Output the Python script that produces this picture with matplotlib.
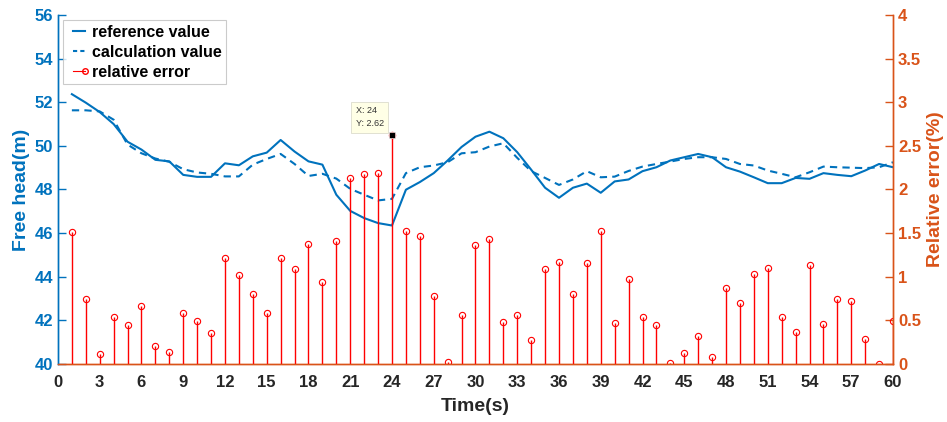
import numpy as np
import matplotlib
matplotlib.use("Agg")
import matplotlib.pyplot as plt
from matplotlib.lines import Line2D
from matplotlib.legend_handler import HandlerLine2D

plt.rcParams['font.family'] = ['Liberation Sans', 'DejaVu Sans']
plt.rcParams['font.weight'] = 'bold'

BLUE = '#0072BD'
ORANGE = '#D95319'

# time axis (s)
time_s = np.arange(1, 61)

# measured free head (m)
reference_value = [
    52.37, 51.98, 51.55, 51.00, 50.19, 49.83, 49.36, 49.29, 48.67, 48.58,
    48.58, 49.20, 49.11, 49.52, 49.69, 50.27, 49.74, 49.29, 49.14, 47.76,
    47.02, 46.69, 46.46, 46.35, 47.99, 48.34, 48.75, 49.33, 49.95, 50.42,
    50.65, 50.35, 49.71, 48.91, 48.08, 47.62, 48.08, 48.27, 47.85, 48.37,
    48.46, 48.84, 49.02, 49.33, 49.48, 49.63, 49.48, 49.02, 48.82, 48.56,
    48.29, 48.29, 48.53, 48.49, 48.75, 48.67, 48.61, 48.87, 49.17, 49.02,
]

# simulated free head (m)
calculation_value = [
    51.63, 51.63, 51.58, 51.20, 50.06, 49.66, 49.42, 49.27, 48.93, 48.78,
    48.72, 48.60, 48.60, 49.14, 49.40, 49.63, 49.17, 48.62, 48.72, 48.50,
    48.03, 47.76, 47.50, 47.57, 48.75, 49.02, 49.10, 49.25, 49.66, 49.71,
    49.97, 50.12, 49.45, 48.84, 48.53, 48.21, 48.46, 48.84, 48.56, 48.59,
    48.85, 49.05, 49.17, 49.28, 49.40, 49.48, 49.48, 49.40, 49.17, 49.10,
    48.87, 48.72, 48.56, 48.79, 49.05, 49.02, 49.00, 48.98, 49.02, 49.25,
]

# relative error (%)
relative_error = [
    1.51, 0.74, 0.11, 0.54, 0.45, 0.66, 0.21, 0.14, 0.58, 0.49,
    0.36, 1.21, 1.02, 0.80, 0.59, 1.22, 1.09, 1.37, 0.94, 1.41,
    2.13, 2.18, 2.19, 2.62, 1.52, 1.47, 0.78, 0.02, 0.56, 1.36,
    1.43, 0.48, 0.56, 0.27, 1.09, 1.17, 0.80, 1.16, 1.52, 0.47,
    0.97, 0.54, 0.45, 0.01, 0.13, 0.32, 0.08, 0.87, 0.70, 1.03,
    1.10, 0.54, 0.37, 1.13, 0.46, 0.75, 0.72, 0.29, 0.00, 0.49,
]

tip_x = 24
tip_y = relative_error[tip_x - 1]


# legend entry with the marker only at the right end of the line
class EndMarkerHandler(HandlerLine2D):
    def create_artists(self, legend, orig_handle, xdescent, ydescent,
                       width, height, fontsize, trans):
        artists = super().create_artists(legend, orig_handle, xdescent, ydescent,
                                         width, height, fontsize, trans)
        artists[0].set_markevery([-1])
        return artists


fig = plt.figure(figsize=(9.47, 4.22), dpi=100)
ax1 = fig.add_axes([0.0612, 0.1374, 0.8818, 0.8271])
ax2 = ax1.twinx()

ax1.plot(time_s, reference_value, color=BLUE, lw=1.5)
ax1.plot(time_s, calculation_value, color=BLUE, lw=1.5, ls=(0, (3.5, 2.5)))

# stems for the error on the right axis
ax2.vlines(time_s, 0, relative_error, color='red', lw=1)
ax2.plot(time_s, relative_error, ls='none', marker='o', ms=4.5, mfc='none',
         mec='red', mew=0.8)

# data tip
ax2.plot([tip_x], [tip_y], marker='s', ms=5, color='black', mec='#f0f0f0', mew=0.5)
ax2.annotate(f'X: {tip_x}\nY: {tip_y:.2f}', xy=(tip_x, tip_y), xytext=(-6, 5),
             textcoords='offset points', fontsize=6.5, fontweight='normal',
             color='#333333', va='bottom', ha='right', multialignment='left',
             linespacing=1.6,
             bbox=dict(boxstyle='square,pad=0.5', fc='#ffffe6', ec='#dcdccc', lw=0.6))

ax1.set_xlim(0, 60)
ax1.set_ylim(40, 56)
ax2.set_ylim(0, 4)
ax1.set_xticks(np.arange(0, 61, 3))
ax1.set_yticks(np.arange(40, 57, 2))
ax2.set_yticks(np.arange(0, 4.01, 0.5))
ax2.set_yticklabels(['0', '0.5', '1', '1.5', '2', '2.5', '3', '3.5', '4'])

for ax in (ax1, ax2):
    ax.spines['top'].set_visible(False)
    ax.spines['left'].set_color(BLUE)
    ax.spines['right'].set_color(ORANGE)
    ax.spines['bottom'].set_color(ORANGE)
    for side in ('left', 'right', 'bottom'):
        ax.spines[side].set_linewidth(1.0)

ax1.tick_params(axis='y', direction='in', colors=BLUE, labelsize=12, length=6, width=1)
ax1.tick_params(axis='x', direction='in', colors='#262626', labelsize=12, length=0, pad=8)
ax2.tick_params(axis='y', direction='in', colors=ORANGE, labelsize=12, length=6, width=1)

ax1.set_xlabel('Time(s)', fontsize=14, fontweight='bold', color='#262626', labelpad=6)
ax1.set_ylabel('Free head(m)', fontsize=14, fontweight='bold', color=BLUE, labelpad=3)
ax2.set_ylabel('Relative error(%)', fontsize=14, fontweight='bold', color=ORANGE,
               labelpad=4)

error_handle = Line2D([], [], color='red', lw=0.8, marker='o', ms=4, mfc='none',
                      mec='red')
handles = [
    Line2D([], [], color=BLUE, lw=1.5),
    Line2D([], [], color=BLUE, lw=1.5, ls=(0, (2, 1.5))),
    error_handle,
]
labels = ['reference value', 'calculation value', 'relative error']
leg = ax2.legend(handles, labels, loc='upper left', bbox_to_anchor=(0.006, 0.985),
                 fontsize=11.5, frameon=True, fancybox=False, borderpad=0.3,
                 labelspacing=0.3, handlelength=1.35, handletextpad=0.15,
                 borderaxespad=0, numpoints=2,
                 handler_map={error_handle: EndMarkerHandler()})
leg.get_frame().set_edgecolor('#bfbfbf')
leg.get_frame().set_linewidth(0.8)

fig.savefig('out.png', dpi=100)
